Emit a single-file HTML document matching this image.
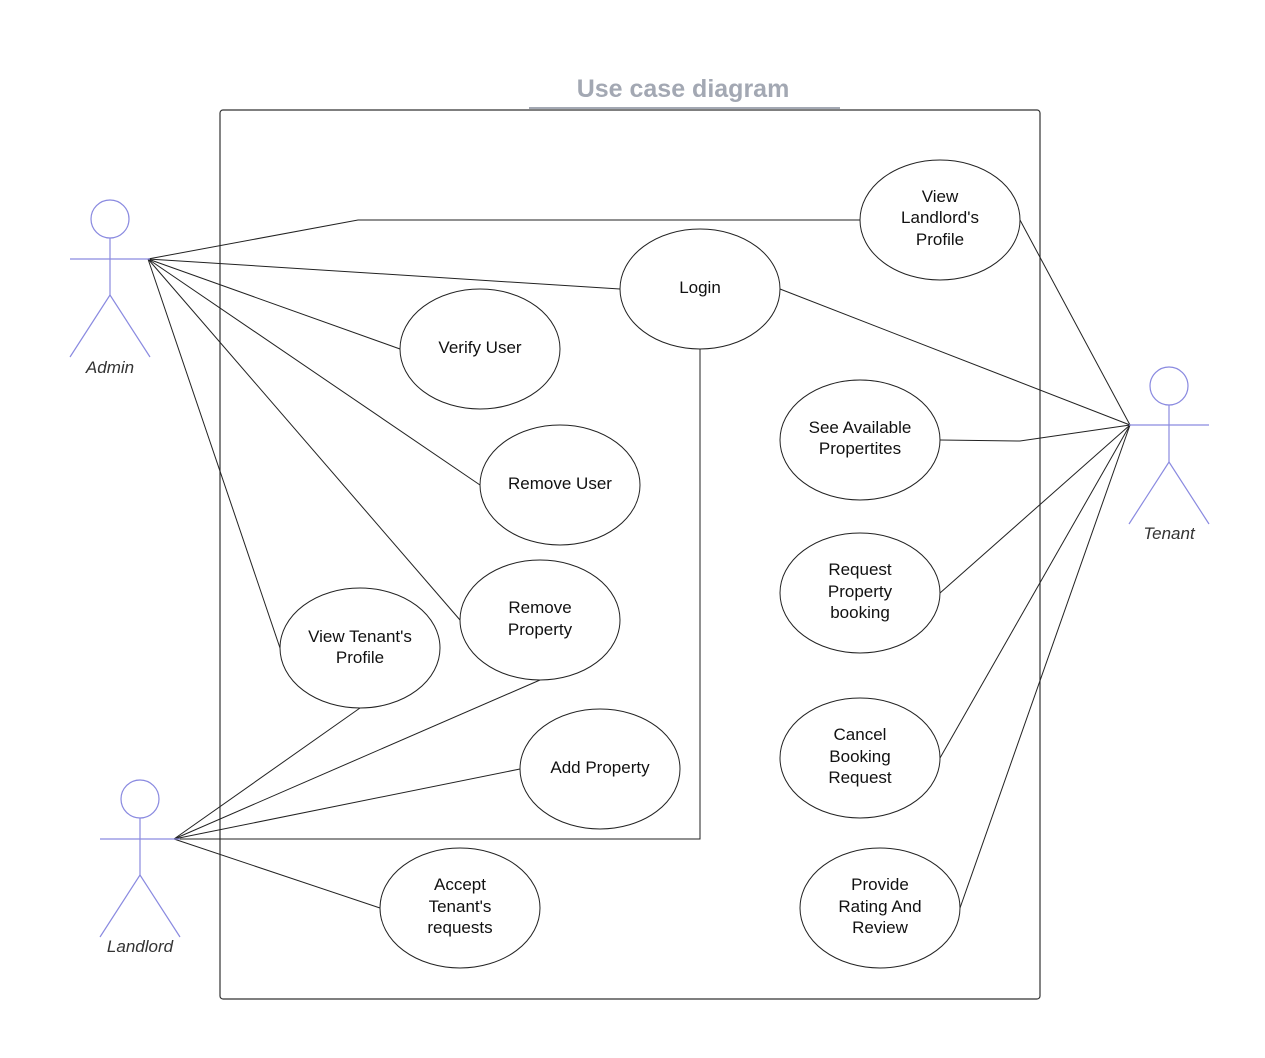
<!DOCTYPE html>
<html><head><meta charset="utf-8"><style>
html,body{margin:0;padding:0;background:#fff;}
svg{display:block;font-family:"Liberation Sans",sans-serif;}
</style></head><body>
<svg width="1265" height="1058" viewBox="0 0 1265 1058" xmlns="http://www.w3.org/2000/svg">
<rect width="1265" height="1058" fill="#fff"/>
<text x="683" y="97" text-anchor="middle" font-size="25" font-weight="bold" fill="#a3a8b3">Use case diagram</text>
<line x1="529" y1="108" x2="840" y2="108" stroke="#a3a8b3" stroke-width="2"/>
<rect x="220" y="110" width="820" height="889" rx="3" fill="none" stroke="#333" stroke-width="1.2"/>
<g stroke="#222" stroke-width="1" fill="none">
<polyline points="148,259 358,220 860,220"/>
<line x1="148" y1="259" x2="620" y2="289"/>
<line x1="148" y1="259" x2="400" y2="349"/>
<line x1="148" y1="259" x2="480" y2="485"/>
<line x1="148" y1="259" x2="460" y2="620"/>
<line x1="148" y1="259" x2="280" y2="648"/>
<line x1="174" y1="839" x2="360" y2="708"/>
<line x1="174" y1="839" x2="540" y2="680"/>
<line x1="174" y1="839" x2="520" y2="769"/>
<polyline points="174,839 700,839 700,349"/>
<line x1="174" y1="839" x2="380" y2="908"/>
<line x1="1130" y1="425" x2="1020" y2="220"/>
<line x1="1130" y1="425" x2="780" y2="289"/>
<polyline points="940,440 1020,441 1130,425"/>
<line x1="1130" y1="425" x2="940" y2="593"/>
<line x1="1130" y1="425" x2="940" y2="758"/>
<line x1="1130" y1="425" x2="960" y2="908"/>
</g>
<g stroke="#222" stroke-width="1" fill="#fff">
<ellipse cx="940" cy="220" rx="80" ry="60"/>
<ellipse cx="700" cy="289" rx="80" ry="60"/>
<ellipse cx="480" cy="349" rx="80" ry="60"/>
<ellipse cx="560" cy="485" rx="80" ry="60"/>
<ellipse cx="540" cy="620" rx="80" ry="60"/>
<ellipse cx="360" cy="648" rx="80" ry="60"/>
<ellipse cx="600" cy="769" rx="80" ry="60"/>
<ellipse cx="460" cy="908" rx="80" ry="60"/>
<ellipse cx="860" cy="440" rx="80" ry="60"/>
<ellipse cx="860" cy="593" rx="80" ry="60"/>
<ellipse cx="860" cy="758" rx="80" ry="60"/>
<ellipse cx="880" cy="908" rx="80" ry="60"/>
</g>
<g font-size="17" fill="#111" text-anchor="middle">
<text x="940" y="202">View</text><text x="940" y="223">Landlord's</text><text x="940" y="245">Profile</text>
<text x="700" y="293">Login</text>
<text x="480" y="353">Verify User</text>
<text x="560" y="489">Remove User</text>
<text x="540" y="613">Remove</text><text x="540" y="635">Property</text>
<text x="360" y="642">View Tenant's</text><text x="360" y="663">Profile</text>
<text x="600" y="773">Add Property</text>
<text x="460" y="890">Accept</text><text x="460" y="912">Tenant's</text><text x="460" y="933">requests</text>
<text x="860" y="433">See Available</text><text x="860" y="454">Propertites</text>
<text x="860" y="575">Request</text><text x="860" y="597">Property</text><text x="860" y="618">booking</text>
<text x="860" y="740">Cancel</text><text x="860" y="762">Booking</text><text x="860" y="783">Request</text>
<text x="880" y="890">Provide</text><text x="880" y="912">Rating And</text><text x="880" y="933">Review</text>
</g>
<g stroke="#8a8ae0" stroke-width="1.2" fill="none">
<circle cx="110" cy="219" r="19"/><line x1="70" y1="259" x2="150" y2="259"/><line x1="110" y1="238" x2="110" y2="295"/><polyline points="70,357 110,295 150,357"/>
<circle cx="140" cy="799" r="19"/><line x1="100" y1="839" x2="180" y2="839"/><line x1="140" y1="818" x2="140" y2="875"/><polyline points="100,937 140,875 180,937"/>
<circle cx="1169" cy="386" r="19"/><line x1="1129" y1="425" x2="1209" y2="425"/><line x1="1169" y1="405" x2="1169" y2="462"/><polyline points="1129,524 1169,462 1209,524"/>
</g>
<g font-size="17" font-style="italic" fill="#333" text-anchor="middle">
<text x="110" y="373">Admin</text>
<text x="140" y="952">Landlord</text>
<text x="1169" y="539">Tenant</text>
</g>
</svg>
</body></html>
